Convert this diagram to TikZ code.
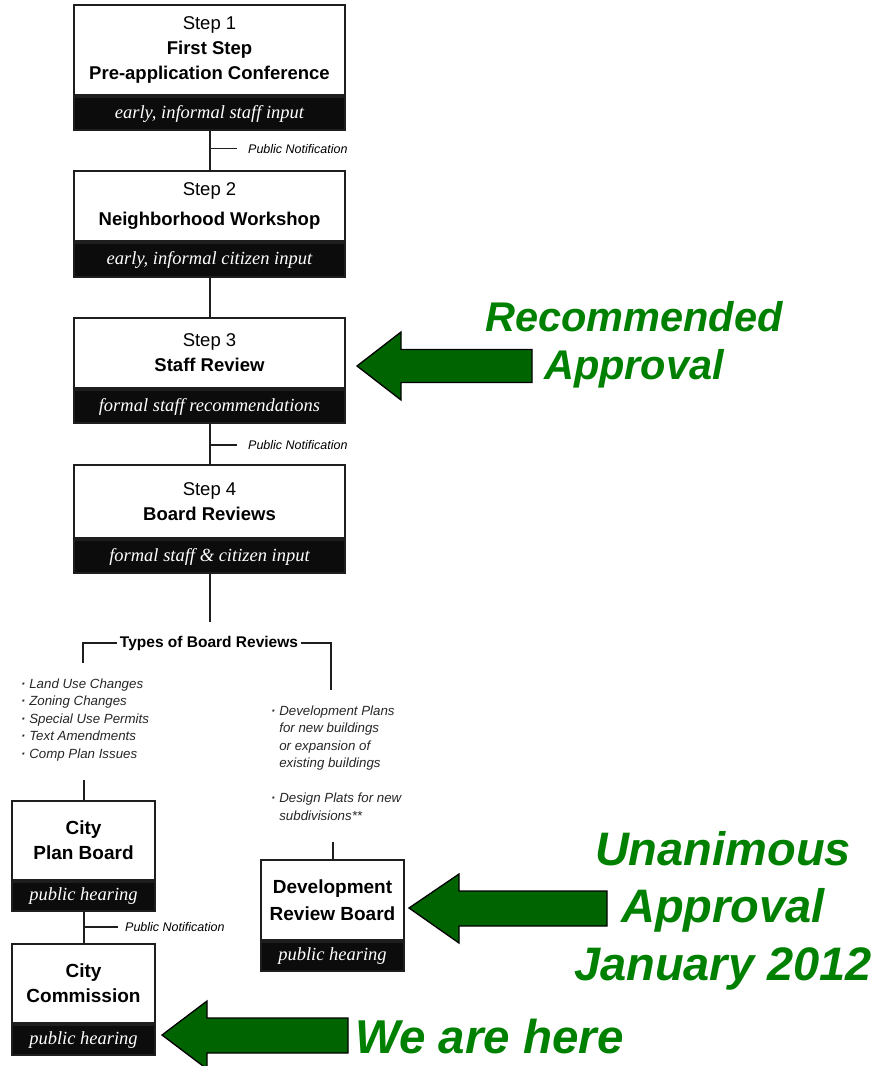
\documentclass[tikz,border=0pt]{standalone}
\usepackage{fontspec}
\setmainfont{Liberation Sans}
\newfontfamily\bandfont{Liberation Serif}
\definecolor{textgreen}{RGB}{0,128,0}
\definecolor{arrowgreen}{RGB}{0,100,0}
\definecolor{boxline}{RGB}{30,30,30}
\definecolor{bandfill}{RGB}{12,12,12}
\newcommand{\lbul}{\textbf{·}\ }
\newcommand{\lind}{\phantom{\textbf{·}\ }}
\begin{document}
\begin{tikzpicture}[x=1pt,y=-1pt,
  stepbox/.style={draw=boxline, line width=2pt, fill=white, inner sep=0pt, align=center,
    font=\fontsize{18.5}{25}\selectfont},
  band/.style={draw=boxline, line width=2pt, fill=bandfill, text=white, inner sep=0pt,
    font=\bandfont\itshape\fontsize{18.5}{20}\selectfont},
  conn/.style={line width=2pt, draw=boxline},
  tick/.style={line width=1.6pt, draw=boxline},
  note/.style={font=\itshape\fontsize{12.5}{15}\selectfont, anchor=west, inner ysep=0pt},
  listtext/.style={font=\itshape\fontsize{13.3}{17.5}\selectfont, align=left, anchor=north west, inner sep=0pt, text=black!85},
  greentext/.style={text=textgreen, align=center, inner sep=0pt},
  bigarrow/.style={fill=arrowgreen, draw=black, line width=1.3pt, line join=miter}
]
\useasboundingbox (0,0) rectangle (882,1066);

% Step boxes
\node[stepbox, minimum width=271pt, minimum height=90pt] (b1) at (209.5,50)
  {Step 1\\\textbf{First Step}\\\textbf{Pre-application Conference}};
\node[band, minimum width=271pt, minimum height=33pt, anchor=north] (n1) at (b1.south)
  {early, informal staff input};

\node[stepbox, minimum width=271pt, minimum height=70pt, font=\fontsize{18.5}{30}\selectfont] (b2) at (209.5,206)
  {Step 2\\\textbf{Neighborhood Workshop}};
\node[band, minimum width=271pt, minimum height=34pt, anchor=north] (n2) at (b2.south)
  {early, informal citizen input};

\node[stepbox, minimum width=271pt, minimum height=70pt] (b3) at (209.5,353)
  {Step 3\\\textbf{Staff Review}};
\node[band, minimum width=271pt, minimum height=33pt, anchor=north] (n3) at (b3.south)
  {formal staff recommendations};

\node[stepbox, minimum width=271pt, minimum height=73pt] (b4) at (209.5,501.5)
  {Step 4\\\textbf{Board Reviews}};
\node[band, minimum width=271pt, minimum height=33pt, anchor=north] (n4) at (b4.south)
  {formal staff \& citizen input};

% connectors
\draw[conn] (n1.south) -- (b2.north) coordinate[pos=0.45] (pn1);
\draw[conn] (n2.south) -- (b3.north);
\draw[conn] (n3.south) -- (b4.north) coordinate[pos=0.52] (pn2);

\node[note, inner xsep=11pt] (pl1) at (pn1 -| 237,0) {Public Notification};
\draw[tick] (pn1) -- (pl1.west);
\node[note, inner xsep=11pt] (pl2) at (pn2 -| 237,0) {Public Notification};
\draw[tick] (pn2) -- (pl2.west);

\coordinate (stem) at (209.5,622);
\draw[conn] (n4.south) -- (stem);

% types of board reviews
\node[font=\bfseries\fontsize{15.5}{18}\selectfont, inner xsep=3pt, inner ysep=0pt] (types) at (209,643)
  {Types of Board Reviews};
\coordinate (lb) at (83,663);
\coordinate (rb) at (331,690);
\draw[conn] (types.west) -| (lb);
\draw[conn] (types.east) -| (rb);

\node[listtext] (llist) at (21,678.5)
  {\lbul Land Use Changes\\\lbul Zoning Changes\\\lbul Special Use Permits\\\lbul Text Amendments\\\lbul Comp Plan Issues};
\node[listtext] (rlist) at (271,705.5)
  {\lbul Development Plans\\\lind for new buildings\\\lind or expansion of\\\lind existing buildings\\[17.5pt]\lbul Design Plats for new\\\lind subdivisions**};

% lower boxes
\node[stepbox, minimum width=143pt, minimum height=79pt, font=\bfseries\fontsize{19}{25}\selectfont] (cp) at (83.5,840.5)
  {City\\Plan Board};
\node[band, minimum width=143pt, minimum height=29pt, anchor=north] (cpb) at (cp.south)
  {public hearing};

\node[stepbox, minimum width=143pt, minimum height=79pt, font=\bfseries\fontsize{19}{25}\selectfont] (cc) at (83.5,983.5)
  {City\\Commission};
\node[band, minimum width=143pt, minimum height=30pt, anchor=north] (ccb) at (cc.south)
  {public hearing};

\node[stepbox, minimum width=143pt, minimum height=80pt, font=\bfseries\fontsize{19}{27}\selectfont] (drb) at (332.5,900)
  {Development\\Review Board};
\node[band, minimum width=143pt, minimum height=29pt, anchor=north] (drbb) at (drb.south)
  {public hearing};

\coordinate (lstem) at (83.5,780);
\draw[conn] (lstem) -- (cp.north);
\coordinate (rstem) at (332.5,842);
\draw[conn] (rstem) -- (drb.north);

\draw[conn] (cpb.south) -- (cc.north) coordinate[pos=0.49] (pn3);
\node[note, inner xsep=7pt] (pl3) at (pn3 -| 118,0) {Public Notification};
\draw[tick] (pn3) -- (pl3.west);

% green arrows
\draw[bigarrow] (357,366) -- (401,332) -- (401,349.5) -- (532,349.5) -- (532,382.5)
  -- (401,382.5) -- (401,400) -- cycle;
\draw[bigarrow] (409,908) -- (459,874) -- (459,891) -- (607,891) -- (607,926)
  -- (459,926) -- (459,943) -- cycle;
\draw[bigarrow] (162,1035) -- (207,1001) -- (207,1018) -- (348,1018) -- (348,1053)
  -- (207,1053) -- (207,1069) -- cycle;

% green labels
\node[greentext, font=\bfseries\itshape\fontsize{41.5}{48}\selectfont] (rec) at (634,345)
  {Recommended\\Approval};
\node[greentext, font=\bfseries\itshape\fontsize{47}{57.5}\selectfont] (una) at (723,910.5)
  {Unanimous\\Approval\\January 2012};
\node[greentext, font=\bfseries\itshape\fontsize{47.5}{50}\selectfont, anchor=base west] (here) at (355,1053)
  {We are here};
\end{tikzpicture}
\end{document}
